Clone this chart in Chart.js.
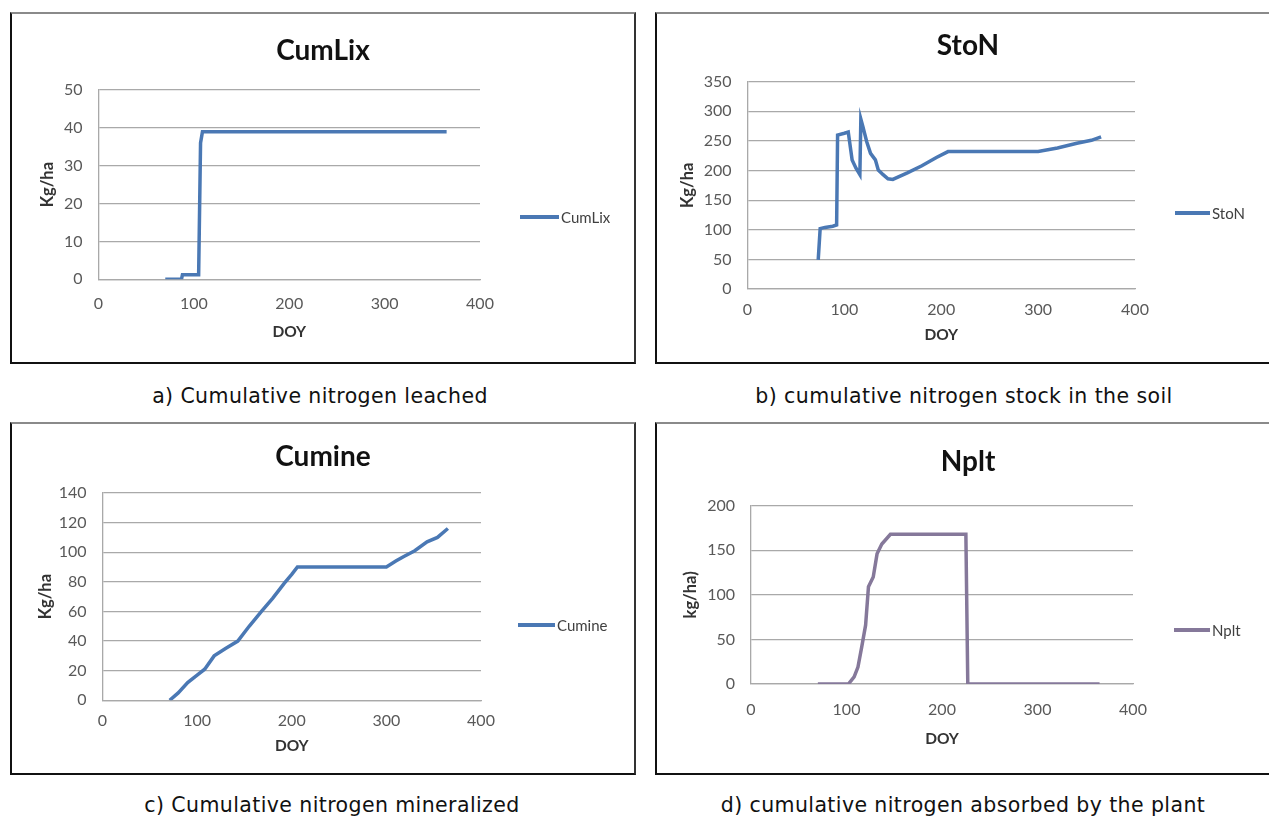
<!DOCTYPE html>
<html>
<head>
<meta charset="utf-8">
<script src="https://cdn.jsdelivr.net/npm/chart.js@4.4.1/dist/chart.umd.min.js"></script>
<style>
  html, body { margin: 0; padding: 0; background: #fff; overflow: hidden; width: 1269px; height: 817px; }
  .box { position: absolute; box-sizing: border-box; border: 2px solid #111; border-top-color: #8a8a8a; border-right-color: #333; }
  .cv { position: absolute; }
  .legend { position: absolute; font: 15px Lato, sans-serif; color: #404040; display: flex; align-items: center; white-space: nowrap; height: 18px; }
  .legend i { display: inline-block; height: 3.5px; margin-right: 2px; }
  .cap { position: absolute; font: 20.5px "DejaVu Sans", sans-serif; letter-spacing: 0.4px; color: #111; transform: translate(-50%, -50%); white-space: nowrap; }
</style>
</head>
<body>
<div class="box" style="left:10px;top:12px;width:626px;height:352px"></div>
<div class="box" style="left:655px;top:12px;width:620px;height:352px"></div>
<div class="box" style="left:10px;top:422px;width:626px;height:353px"></div>
<div class="box" style="left:655px;top:422px;width:620px;height:353px"></div>

<div class="cap" style="left:320px;top:396px">a) Cumulative nitrogen leached</div>
<div class="cap" style="left:964px;top:396px">b) cumulative nitrogen stock in the soil</div>
<div class="cap" style="left:332px;top:805px">c) Cumulative nitrogen mineralized</div>
<div class="cap" style="left:963px;top:805px">d) cumulative nitrogen absorbed by the plant</div>

<script>
// a) CumLix
const doyLix = [70, 87, 88, 105, 107, 109, 365];
const cumLix = [0, 0, 1.2, 1.2, 36, 39, 39];

// b) StoN
const doyStoN = [73, 75, 80, 88, 92, 93, 100, 104, 108, 112, 116, 117, 119, 123, 127, 132, 135, 140, 145, 150, 165, 180, 195, 207, 300, 320, 340, 355, 365];
const stoN = [49, 102, 104, 106, 108, 260, 263, 265, 218, 204, 193, 287, 275, 249, 229, 218, 201, 193, 186, 185, 196, 208, 222, 232, 232, 238, 246, 251, 257];

// c) Cumine
const doyCumine = [71, 80, 90, 100, 108, 118, 130, 143, 155, 168, 180, 192, 200, 206, 250, 300, 310, 318, 330, 343, 354, 365];
const cumine = [0, 5, 12, 17, 21, 30, 35, 40, 50, 60, 69, 79, 85, 90, 90, 90, 94, 97, 101, 107, 110, 116];

// d) Nplt
const doyNplt = [70, 102, 108, 112, 116, 120, 123, 128, 132, 137, 146, 225, 227, 365];
const nplt = [0, 0, 8, 19, 42, 66, 109, 120, 146, 157, 168, 168, 0, 0];

const xTicks = [0, 100, 200, 300, 400];

const blue = '#4a78b4';
const purple = '#85789a';

const panels = [
  { title: 'CumLix', yTitle: 'Kg/ha', label: 'CumLix', xs: doyLix, ys: cumLix, color: blue, yMax: 50, yStep: 10,
    canvas: [12, 14, 622, 348], plot: [98.5, 480, 90, 279.3], titleY: 50.7, yTitleX: 48, xTickY: 303.3, xTitleY: 331.7,
    legend: [520, 217, 39] },
  { title: 'StoN', yTitle: 'Kg/ha', label: 'StoN', xs: doyStoN, ys: stoN, color: blue, yMax: 350, yStep: 50,
    canvas: [657, 14, 622, 348], plot: [747.5, 1135, 81.7, 289], titleY: 45.7, yTitleX: 688, xTickY: 310, xTitleY: 335,
    legend: [1175, 213, 35] },
  { title: 'Cumine', yTitle: 'Kg/ha', label: 'Cumine', xs: doyCumine, ys: cumine, color: blue, yMax: 140, yStep: 20,
    canvas: [12, 424, 622, 349], plot: [102.5, 481, 493, 700.3], titleY: 457, yTitleX: 45.5, xTickY: 720.7, xTitleY: 745.7,
    legend: [518, 625, 37] },
  { title: 'Nplt', yTitle: 'kg/ha)', label: 'Nplt', xs: doyNplt, ys: nplt, color: purple, yMax: 200, yStep: 50,
    canvas: [657, 424, 622, 349], plot: [751, 1133, 505.7, 684], titleY: 462, yTitleX: 691, xTickY: 709.7, xTitleY: 739,
    legend: [1174, 630, 36] }
];

const tickFont = { family: 'Lato', size: 16 };
const xTitleFont = { family: 'Lato', size: 15.5, weight: 'bold', lineHeight: 1.2 };
const yTitleFont = { family: 'Lato', size: 16.5, weight: 'bold', lineHeight: 1.2 };
const titleFont = { family: 'Lato', size: 28, weight: 'bold', lineHeight: 1.2 };
const gridColor = '#a9a9a9';

function makePanel(p) {
  const [cx, cy, cw, ch] = p.canvas;
  const [L, R, T, B] = p.plot;
  const wrap = document.createElement('div');
  wrap.className = 'cv';
  wrap.style.left = cx + 'px';
  wrap.style.top = cy + 'px';
  wrap.style.width = cw + 'px';
  wrap.style.height = ch + 'px';
  const canvas = document.createElement('canvas');
  wrap.appendChild(canvas);
  document.body.appendChild(wrap);

  const titleLH = titleFont.size * titleFont.lineHeight;
  const xLH = xTitleFont.size * xTitleFont.lineHeight;
  const yLH = yTitleFont.size * yTitleFont.lineHeight;

  new Chart(canvas, {
    type: 'line',
    data: {
      datasets: [{
        label: p.label,
        data: p.xs.map((d, i) => ({ x: d, y: p.ys[i] })),
        borderColor: p.color,
        backgroundColor: p.color,
        borderWidth: 3.5,
        pointRadius: 0,
        tension: 0,
        fill: false,
        yAxisID: 'y'
      }]
    },
    options: {
      responsive: true,
      maintainAspectRatio: false,
      animation: false,
      layout: { padding: 0 },
      plugins: {
        legend: { display: false },
        tooltip: { enabled: false },
        title: {
          display: true,
          text: p.title,
          color: '#111',
          font: titleFont,
          padding: { top: p.titleY - titleLH / 2 - cy, bottom: T - (p.titleY + titleLH / 2) }
        }
      },
      scales: {
        x: {
          type: 'linear',
          min: 0,
          max: 400,
          afterBuildTicks: (s) => { s.ticks = xTicks.map((v) => ({ value: v })); },
          ticks: { padding: p.xTickY - B - 9.5, color: '#595959', font: tickFont },
          grid: { display: false, drawTicks: false },
          border: { display: true, color: gridColor, width: 1.3 },
          title: {
            display: true, text: 'DOY', color: '#333', font: xTitleFont,
            padding: { top: 0, bottom: cy + ch - p.xTitleY - xLH / 2 }
          },
          afterFit: (s) => { s.height = cy + ch - B; s.paddingLeft = 0; s.paddingRight = 0; }
        },
        y: {
          min: 0,
          max: p.yMax,
          ticks: { stepSize: p.yStep, padding: 16, color: '#595959', font: tickFont },
          grid: { color: gridColor, lineWidth: 1.3, drawTicks: false },
          border: { display: true, color: gridColor, width: 1.3 },
          title: {
            display: true, text: p.yTitle, color: '#333', font: yTitleFont,
            padding: { top: p.yTitleX - cx - yLH / 2, bottom: 0 }
          },
          afterFit: (s) => { s.width = L - cx; s.paddingTop = 0; s.paddingBottom = 0; }
        },
        // empty right box: reserves the legend space so the title stays centred on the panel
        side: {
          position: 'right',
          ticks: { display: false },
          grid: { display: false, drawTicks: false },
          border: { display: false },
          afterFit: (s) => { s.width = cx + cw - R; s.paddingTop = 0; s.paddingBottom = 0; }
        }
      }
    }
  });

  const [lx, ly, llen] = p.legend;
  const lg = document.createElement('div');
  lg.className = 'legend';
  lg.style.left = lx + 'px';
  lg.style.top = (ly - 9) + 'px';
  const sw = document.createElement('i');
  sw.style.width = llen + 'px';
  sw.style.background = p.color;
  lg.appendChild(sw);
  lg.appendChild(document.createTextNode(p.label));
  document.body.appendChild(lg);
}

panels.forEach(makePanel);
</script>
</body>
</html>
